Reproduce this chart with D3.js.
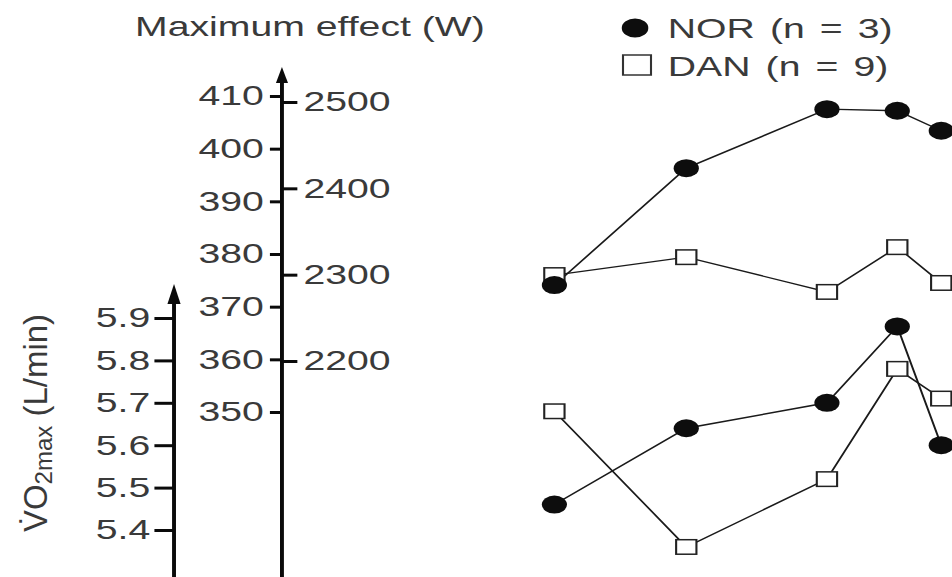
<!DOCTYPE html>
<html>
<head>
<meta charset="utf-8">
<script src="https://cdn.jsdelivr.net/npm/d3@7"></script>
<style>
  html, body { margin: 0; padding: 0; background: #fff; }
  svg { display: block; }
  text { font-family: "Liberation Sans", Arial, Helvetica, sans-serif; }
</style>
</head>
<body>
<svg id="chart" width="952" height="577"></svg>
<script>
// ---- data ----
const timePoints   = [0, 3, 6.2, 7.8, 8.8];             // measurement occasions (x position)
const norPower     = [374.1, 396.3, 407.5, 407.2, 403.4]; // Maximum effect (W), NOR
const danPower     = [376.0, 379.4, 372.8, 381.3, 374.5]; // Maximum effect (W), DAN
const norVO2       = [5.46, 5.64, 5.70, 5.88, 5.60];      // VO2max (L/min), NOR
const danVO2       = [5.68, 5.36, 5.52, 5.78, 5.71];      // VO2max (L/min), DAN
const powerTicks   = [350, 360, 370, 380, 390, 400, 410];
const powerTicks2  = [2200, 2300, 2400, 2500];
const vo2Ticks     = [5.4, 5.5, 5.6, 5.7, 5.8, 5.9];
const seriesNames  = ["NOR (n = 3)", "DAN (n = 9)"];
const titleText    = "Maximum effect (W)";

// ---- layout ----
const SX = 1.4; // horizontal stretch of the original figure
const svg = d3.select("#chart");
svg.append("rect").attr("width", 952).attr("height", 577).attr("fill", "#fff");
const g = svg.append("g").attr("transform", `scale(${SX},1)`);

const axisPowerX = 201.4, axisVO2X = 124.3;
const x = d3.scaleLinear().domain([0, 10]).range([396, 710]);
const yPower  = d3.scaleLinear().domain([350, 410]).range([412, 96]);
const yPower2 = d3.scaleLinear().domain([2200, 2500]).range([361, 102]);
const yVO2    = d3.scaleLinear().domain([5.4, 5.9]).range([530, 318]);

const textCol = "#3a3a3a", inkCol = "#0a0a0a";

function styleAxis(sel) {
  sel.select(".domain").remove();
  sel.selectAll(".tick line").attr("stroke", inkCol).attr("stroke-width", 3);
  sel.selectAll(".tick text").attr("fill", textCol).attr("font-size", 28)
     .attr("font-family", '"Liberation Sans", Arial, Helvetica, sans-serif');
}

// axis lines with arrows
function arrowAxis(xpos, tipY, headH, headW, lw) {
  g.append("line").attr("x1", xpos).attr("x2", xpos)
    .attr("y1", tipY + headH - 2).attr("y2", 580)
    .attr("stroke", inkCol).attr("stroke-width", lw);
  g.append("path")
    .attr("d", `M${xpos},${tipY} L${xpos - headW / 2},${tipY + headH} L${xpos + headW / 2},${tipY + headH} Z`)
    .attr("fill", inkCol);
}
arrowAxis(axisPowerX, 67, 16, 8.6, 2.8);
arrowAxis(axisVO2X, 284, 20, 9.4, 2.8);

// power axes
g.append("g").attr("transform", `translate(${axisPowerX},0)`)
  .call(d3.axisLeft(yPower).tickValues(powerTicks).tickSize(8.6).tickPadding(4.3).tickFormat(d3.format("d")))
  .call(styleAxis);
g.append("g").attr("transform", `translate(${axisPowerX},0)`)
  .call(d3.axisRight(yPower2).tickValues(powerTicks2).tickSize(11).tickPadding(4.3).tickFormat(d3.format("d")))
  .call(styleAxis);
// VO2 axis
g.append("g").attr("transform", `translate(${axisVO2X},0)`)
  .call(d3.axisLeft(yVO2).tickValues(vo2Ticks).tickSize(14).tickPadding(3).tickFormat(d3.format(".1f")))
  .call(styleAxis);

// title
g.append("text").attr("x", 221.4).attr("y", 36).attr("text-anchor", "middle")
  .attr("font-size", 28).attr("fill", textCol).text(titleText);

// series
const groups = [
  { nor: norPower, dan: danPower, y: yPower },
  { nor: norVO2,   dan: danVO2,   y: yVO2 }
];
const lineGen = (ys) => d3.line().x((d, i) => x(timePoints[i])).y(d => ys(d));
groups.forEach(gr => {
  [gr.dan, gr.nor].forEach(vals => {
    g.append("path").datum(vals).attr("d", lineGen(gr.y))
      .attr("fill", "none").attr("stroke", "#1a1a1a").attr("stroke-width", 1.4);
  });
});
const sq = 14.5;
groups.forEach(gr => {
  g.selectAll(null).data(gr.dan).enter().append("rect")
    .attr("x", (d, i) => x(timePoints[i]) - sq / 2).attr("y", d => gr.y(d) - sq / 2)
    .attr("width", sq).attr("height", sq)
    .attr("fill", "#fff").attr("stroke", "#222").attr("stroke-width", 1.5);
});
groups.forEach(gr => {
  g.selectAll(null).data(gr.nor).enter().append("circle")
    .attr("cx", (d, i) => x(timePoints[i])).attr("cy", d => gr.y(d)).attr("r", 9)
    .attr("fill", "#0d0d0d");
});

// legend
g.append("circle").attr("cx", 453.6).attr("cy", 28).attr("r", 9.5).attr("fill", "#0d0d0d");
g.append("rect").attr("x", 445).attr("y", 55).attr("width", 20).attr("height", 20)
  .attr("fill", "#fff").attr("stroke", "#333").attr("stroke-width", 1.5);
g.append("text").attr("x", 477).attr("y", 38).attr("font-size", 28).attr("word-spacing", 3)
  .attr("fill", textCol).text(seriesNames[0]);
g.append("text").attr("x", 477).attr("y", 76).attr("font-size", 28).attr("word-spacing", 3)
  .attr("fill", textCol).text(seriesNames[1]);

// y label (VO2max)
const yl = svg.append("text").attr("transform", "translate(47,423) rotate(-90)")
  .attr("text-anchor", "middle").attr("fill", textCol).attr("font-size", 33);
yl.append("tspan").text("V\u0307O");
yl.append("tspan").attr("font-size", 24).attr("dy", 5).text("2max");
yl.append("tspan").attr("dy", -5).text(" (L/min)");
</script>
</body>
</html>
